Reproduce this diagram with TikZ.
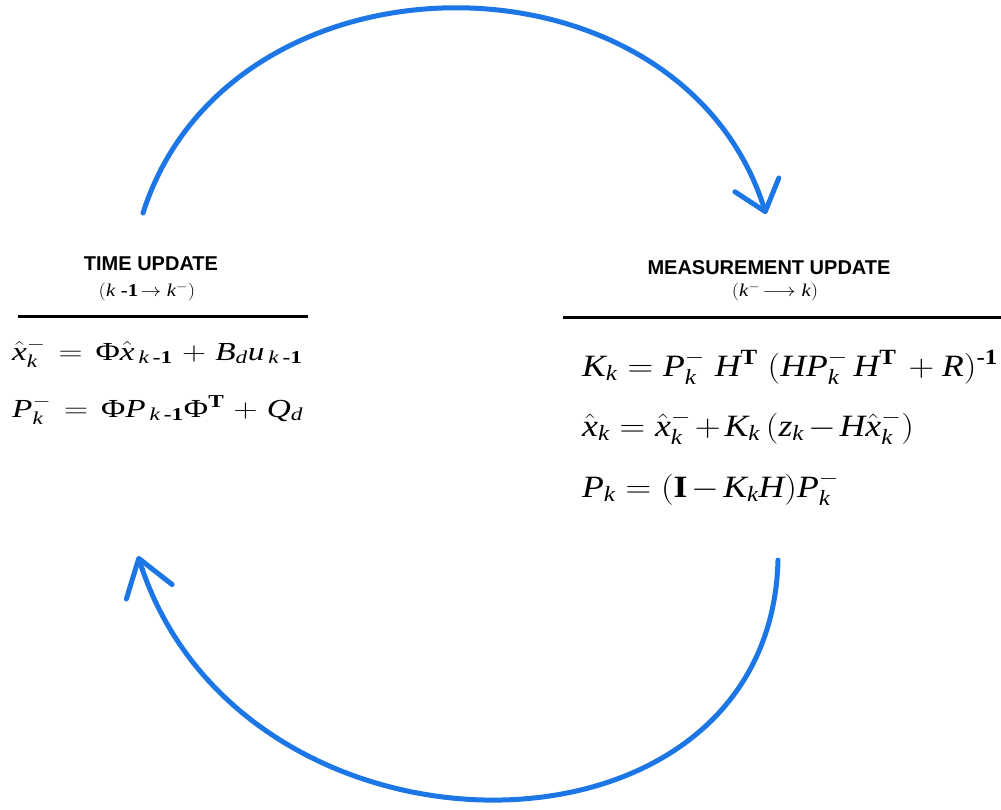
\RequirePackage{fix-cm}
\documentclass[tikz,border=0pt]{standalone}
\usepackage{amsmath}
\usepackage{graphicx}
\usepackage[no-math]{fontspec}
\setmainfont{Liberation Serif}
\newfontfamily\libser[NFSSFamily=libser]{Liberation Serif}
\newfontfamily\headfont{Liberation Sans}
\DeclareSymbolFont{letters}{TU}{libser}{m}{it}
\newcommand\tb[1]{\text{\upshape\bfseries #1}}
\newcommand\Ph{\text{\upshape Φ}}
\newcommand\km{\,k\,\tb{-1}}
\newcommand\hs[2][1.15]{\scalebox{#1}[1]{$#2$}}
\newcommand\spL{\thickmuskip=7mu\relax\medmuskip=5mu\relax}
\newcommand\spR{\thickmuskip=5mu\relax\medmuskip=2mu\relax}
\usetikzlibrary{arrows.meta}
\definecolor{kblue}{RGB}{28,118,230}
\begin{document}
\begin{tikzpicture}[x=1pt,y=-1pt,
  arc/.style={line width=5pt,draw=kblue,line cap=round},
  tipA/.style={-{Straight Barb[length=28pt,width=46pt,round]}},
  tipB/.style={-{Straight Barb[length=35pt,width=48pt,round]}},
  head/.style={inner sep=0pt,font=\headfont\bfseries\fontsize{20}{24}\selectfont},
  sub/.style={inner sep=0pt,font=\fontsize{18}{21}\selectfont},
  eqL/.style={anchor=base west,inner sep=0pt,
    font=\fontsize{26}{30}\selectfont\spL},
  eqR/.style={anchor=base west,inner sep=0pt,
    font=\fontsize{31}{36}\selectfont\spR},
  rule/.style={line width=3pt,draw=black}]
\useasboundingbox (0,0) rectangle (1001,810);
% time update
\node[head] (th) at (151,264) {TIME UPDATE};
\node[sub] (ts) at (147,292) {\hs{(k\;\tb{-1}\!\rightarrow k^{-})}};
\draw[rule] (18,316) -- (308,316);
\node[eqL] (tu1) at (12,360) {\hs[1.28]{\hat{x}_k^- = \Ph\hat{x}_{\km} + B_d u_{\km}}};
\node[eqL] (tu2) at (12,417) {\hs[1.28]{P_k^- = \Ph P_{\km}\Ph^{\tb{T}} + Q_d}};
% measurement update
\node[head] (mh) at (769,268) {MEASUREMENT UPDATE};
\node[sub] (ms) at (775,292) {\hs{(k^{-}\!\longrightarrow k)}};
\draw[rule] (563,317) -- (1001,317);
\node[eqR] (mu1) at (582,376) {\hs{K_k = P_k^-\;H^{\tb{T}}\;(HP_k^-\,H^{\tb{T}} \mskip4mu+\mskip2mu R)^{\tb{-1}}}};
\node[eqR] (mu2) at (582,436) {\hs{\hat{x}_k = \hat{x}_k^- + K_k\,(z_k - H\hat{x}_k^-)}};
\node[eqR] (mu3) at (582,497) {\hs{P_k = (\tb{I} - K_k H)P_k^-}};
% cycle arcs
\coordinate (t0) at (143,213);
\coordinate (t1) at (766,214);
\coordinate (b0) at (778,560);
\coordinate (b1) at (138,556);
\draw[arc,tipA] (t0) .. controls (230,-60) and (680,-60) .. (t1);
\draw[arc,tipB] (b0) .. controls (770,880) and (240,880) .. (b1);
\end{tikzpicture}
\end{document}
